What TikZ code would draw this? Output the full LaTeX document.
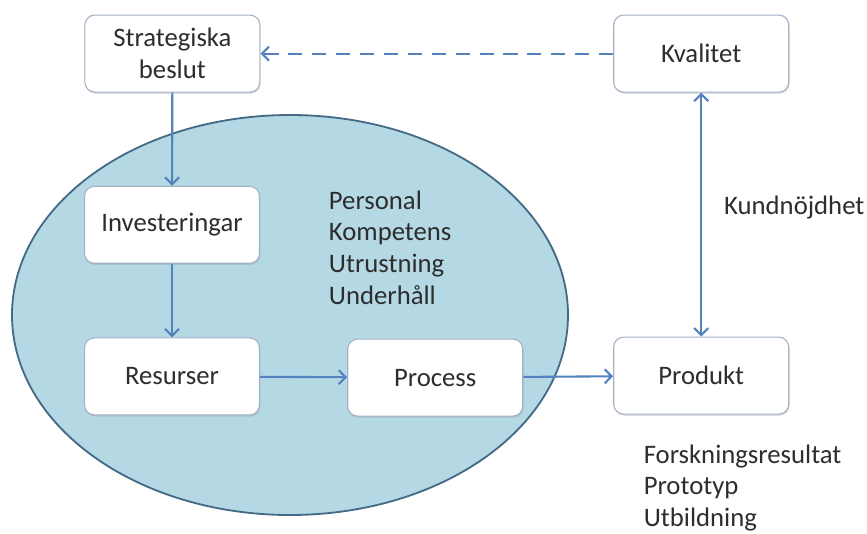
\documentclass[tikz,border=0pt]{standalone}
\usepackage{fontspec}
\setmainfont{Carlito}
\usetikzlibrary{arrows.meta,shadows}

\definecolor{ovalfill}{RGB}{180,217,229}
\definecolor{ovalline}{RGB}{68,106,134}
\definecolor{flowblue}{RGB}{84,130,190}
\definecolor{boxline}{RGB}{165,178,198}
\definecolor{txtgray}{RGB}{45,45,45}

\begin{document}
\begin{tikzpicture}[
    font=\fontsize{19}{22.5}\selectfont, text=txtgray,
    box/.style={draw=boxline, line width=0.8pt, fill=white, rounded corners=7pt,
      minimum width=4.375cm, minimum height=1.925cm, align=center,
      drop shadow={opacity=0.25, shadow xshift=0.6pt, shadow yshift=-1.2pt}},
    flow/.style={draw=flowblue, line width=1.5pt,
      -{Straight Barb[length=5pt, width=10pt, line width=1.5pt]}},
    notes/.style={align=left, anchor=west}
  ]

  \useasboundingbox (0, 0) rectangle (21.675, -13.325);

  %% ==================== OVAL ====================
  \draw[fill=ovalfill, draw=ovalline, line width=1.3pt]
    (7.25, -7.875) ellipse (6.95 and 5.0);

  %% ==================== BOXES ====================
  \node[box] (strat) at (4.31, -1.34) {Strategiska\\beslut};
  \node[box] (kval)  at (17.53, -1.34) {Kvalitet};
  \node[box] (inv)   at (4.30, -5.62) {Investeringar};
  \node[box] (res)   at (4.30, -9.41) {Resurser};
  \node[box] (proc)  at (10.88, -9.44) {Process};
  \node[box] (prod)  at (17.53, -9.39) {Produkt};

  %% ==================== TEXTS ====================
  \node[notes] (resurslist) at (8.1, -6.19)
    {Personal\\Kompetens\\Utrustning\\Underhåll};
  \node[notes] (kund) at (17.98, -5.2) {Kundnöjdhet};
  \node[notes] (utfall) at (15.97, -12.2)
    {Forskningsresultat\\Prototyp\\Utbildning};

  %% ==================== ARROWS ====================
  \draw[flow] (strat) -- (inv);
  \draw[flow] (inv) -- (res);
  \draw[flow] (res) -- (proc);
  \draw[flow] (proc) -- (prod);
  \draw[flow, {Straight Barb[length=5pt, width=10pt, line width=1.5pt]}-{Straight Barb[length=5pt, width=10pt, line width=1.5pt]}]
    (kval) -- (prod);
  % feedback from quality back to the strategy
  \draw[flow, dash pattern=on 10pt off 7pt] (kval) -- (strat);

\end{tikzpicture}
\end{document}
